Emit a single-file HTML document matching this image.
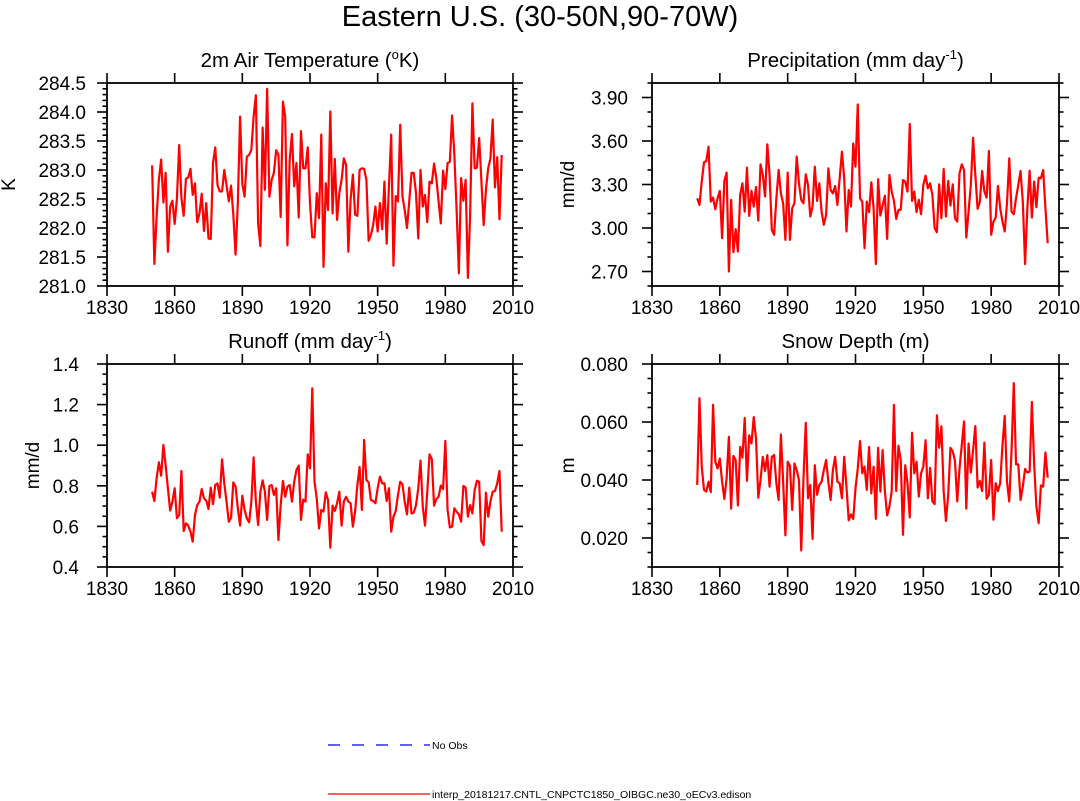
<!DOCTYPE html>
<html><head><meta charset="utf-8">
<style>
html,body{margin:0;padding:0;background:#fff;}
svg{display:block;font-family:"Liberation Sans",Arial,sans-serif;}
</style></head>
<body>
<svg id="chart" width="1080" height="801" viewBox="0 0 1080 801" xmlns="http://www.w3.org/2000/svg">
<text x="540" y="26" font-size="29" text-anchor="middle">Eastern U.S. (30-50N,90-70W)</text>
<g id="panels"></g>
<g>
  <line x1="328" y1="745" x2="430" y2="745" stroke="#0000ff" stroke-width="1.2" stroke-dasharray="12,12"/>
  <text x="432" y="749" font-size="10.5">No Obs</text>
  <line x1="328" y1="794" x2="430" y2="794" stroke="#ff0000" stroke-width="1.2"/>
  <text x="432" y="798" font-size="10.5">interp_20181217.CNTL_CNPCTC1850_OIBGC.ne30_oECv3.edison</text>
</g>
</svg>
<script>
const startYear = 1850;
const xTickYears = [1830, 1860, 1890, 1920, 1950, 1980, 2010];
const tempVals = [283.08,281.38,282.20,282.83,283.18,282.44,282.95,281.59,282.37,282.47,
282.07,282.51,283.43,282.51,282.21,282.85,282.87,283.02,282.57,282.77,
282.10,282.25,282.59,281.95,282.43,281.82,281.81,283.12,283.39,282.74,
282.63,282.63,283.00,282.74,282.46,282.73,282.23,281.54,282.43,283.92,
282.76,282.54,283.23,283.26,283.35,283.92,284.29,282.08,281.69,283.73,
282.66,284.40,282.54,282.83,282.95,283.34,283.26,282.19,284.18,283.92,
281.70,283.18,283.62,282.72,283.12,282.18,283.67,283.03,283.03,283.39,
282.43,281.84,281.84,282.60,282.17,283.61,281.33,282.77,282.31,284.01,
282.25,283.19,282.14,282.60,282.83,283.20,283.09,281.59,282.49,282.92,
282.23,282.21,283.00,283.03,283.02,282.83,281.78,281.88,282.05,282.37,
281.94,282.43,281.98,282.80,281.73,282.72,283.61,281.35,282.55,282.46,
283.78,282.54,282.31,282.00,282.46,282.95,282.95,282.60,281.82,283.00,
282.37,282.57,282.10,282.80,282.77,283.11,282.86,282.46,282.08,282.99,
282.67,283.12,283.14,283.94,283.26,282.31,281.22,282.86,282.47,282.83,
281.14,282.23,284.15,283.03,283.04,283.55,282.80,282.05,282.66,283.03,
283.20,283.87,282.70,283.22,282.15,283.26];
const precipVals = [3.205,3.159,3.320,3.453,3.462,3.561,3.182,3.210,3.129,3.205,
3.256,2.930,3.324,3.382,2.700,3.194,2.833,2.992,2.838,3.228,
3.308,3.113,3.416,3.083,3.256,3.148,3.283,3.051,3.439,3.366,
3.217,3.577,3.366,2.987,2.953,3.205,3.400,3.239,3.171,2.918,
3.382,2.918,3.136,3.171,3.492,3.308,3.194,3.171,3.370,3.297,
3.079,3.148,3.423,3.187,3.308,3.113,3.022,3.090,3.411,3.262,
3.239,3.290,3.159,3.343,3.526,3.343,2.976,3.262,3.148,3.583,
3.423,3.852,3.205,3.182,2.861,
3.182,3.109,3.315,3.136,2.751,3.336,3.086,3.159,3.223,2.925,
3.366,3.251,3.187,3.063,3.125,3.125,3.331,3.320,3.251,3.717,
3.187,3.251,3.109,3.194,3.095,3.297,3.361,3.274,3.308,3.228,
2.999,2.971,3.301,3.067,3.407,3.079,3.324,3.155,3.301,3.067,
3.044,3.377,3.439,3.400,2.934,3.113,3.297,3.622,3.366,3.132,
3.182,3.393,3.251,3.210,3.531,2.953,3.044,3.072,3.290,3.136,
3.044,2.976,3.171,3.480,3.113,3.095,3.205,3.297,3.393,3.182,
2.751,3.136,3.395,3.072,3.320,3.143,3.347,3.343,3.400,3.136,2.895];
const runoffVals = [0.771,0.725,0.837,0.916,0.850,1.001,0.902,0.788,0.678,0.722,
0.788,0.640,0.656,0.873,0.577,0.615,0.604,0.574,0.525,0.656,
0.705,0.722,0.784,0.738,0.727,0.686,0.791,0.710,0.804,0.812,
0.742,0.930,0.812,0.722,0.623,0.643,0.817,0.796,0.689,0.604,
0.751,0.681,0.640,0.620,0.722,0.940,0.722,0.607,0.771,0.827,
0.771,0.632,0.799,0.804,0.755,0.788,0.533,0.705,0.824,0.746,
0.796,0.804,0.722,0.820,0.878,0.899,0.632,0.732,0.722,0.955,
0.886,1.280,
0.820,0.738,0.590,0.681,0.673,0.768,0.730,0.495,0.702,0.676,
0.714,0.771,0.604,0.722,0.746,0.722,0.714,0.599,0.673,0.804,
0.893,0.681,1.026,0.829,0.817,0.730,0.725,0.714,0.788,0.845,
0.812,0.812,0.725,0.788,0.574,0.648,0.676,0.755,0.820,0.807,
0.722,0.659,0.791,0.664,0.668,0.705,0.788,0.924,0.697,0.604,
0.771,0.955,0.932,0.702,0.735,0.746,0.801,0.784,1.021,0.681,
0.595,0.599,0.689,0.673,0.659,0.623,0.799,0.791,0.648,0.705,
0.664,0.779,0.825,0.820,0.528,0.508,0.766,0.648,0.722,0.771,
0.774,0.812,0.873,0.574];
const snowVals = [0.0383,0.0682,0.0446,0.0366,0.0360,0.0394,0.0358,0.0659,0.0463,0.0440,
0.0474,0.0394,0.0335,0.0406,0.0549,0.0301,0.0483,0.0469,0.0312,0.0514,
0.0477,0.0614,0.0397,0.0554,0.0526,0.0617,0.0543,0.0339,0.0400,0.0480,
0.0431,0.0486,0.0377,0.0480,0.0486,0.0389,0.0331,0.0557,0.0394,0.0209,
0.0463,0.0449,0.0297,0.0457,0.0434,0.0400,0.0157,0.0406,0.0597,0.0337,
0.0383,0.0197,0.0451,0.0349,0.0383,0.0394,0.0434,0.0469,0.0394,0.0331,
0.0434,0.0480,0.0394,0.0389,0.0337,0.0480,0.0377,0.0261,0.0282,0.0266,
0.0371,0.0440,0.0534,0.0423,0.0446,
0.0366,0.0514,0.0354,0.0446,0.0266,0.0511,0.0360,0.0503,0.0360,0.0278,
0.0309,0.0360,0.0659,0.0362,0.0518,0.0469,0.0211,0.0451,0.0389,0.0271,
0.0563,0.0423,0.0463,0.0343,0.0423,0.0446,0.0537,0.0337,0.0442,0.0326,
0.0317,0.0623,0.0511,0.0585,0.0360,0.0259,0.0349,0.0511,0.0499,0.0465,
0.0326,0.0440,0.0520,0.0602,0.0301,0.0526,0.0426,0.0503,0.0586,0.0374,
0.0397,0.0362,0.0529,0.0335,0.0349,0.0469,0.0263,0.0389,0.0362,0.0389,
0.0520,0.0621,0.0394,0.0326,0.0499,0.0734,0.0454,0.0454,0.0331,0.0377,
0.0438,0.0426,0.0429,0.0669,0.0457,0.0309,0.0251,0.0381,0.0377,0.0495,0.0408];
const tempTicks = ["281.0","281.5","282.0","282.5","283.0","283.5","284.0","284.5"];
const precipTicks = ["2.70","3.00","3.30","3.60","3.90"];
const runoffTicks = ["0.4","0.6","0.8","1.0","1.2","1.4"];
const snowTicks = ["0.020","0.040","0.060","0.080"];

const NS = "http://www.w3.org/2000/svg";
function mk(tag, attrs, parent){const e=document.createElementNS(NS,tag);for(const k in attrs)e.setAttribute(k,attrs[k]);parent.appendChild(e);return e;}

const panels = [
 {key:"temperature", vals:tempVals, ticks:tempTicks, x0:107, x1:513, y0:83, y1:286, ymin:281.0, ymax:284.5, minor:0.1,
  labelRight:86, title:"2m Air Temperature (", sup:"o", titleEnd:"K)", ytitle:"K", ytx:15},
 {key:"precipitation", vals:precipVals, ticks:precipTicks, x0:652, x1:1059, y0:83, y1:286, ymin:2.6, ymax:4.0, minor:0.1,
  labelRight:628, title:"Precipitation (mm day", sup:"-1", titleEnd:")", ytitle:"mm/d", ytx:574},
 {key:"runoff", vals:runoffVals, ticks:runoffTicks, x0:107, x1:513, y0:364, y1:567, ymin:0.4, ymax:1.4, minor:0.05,
  labelRight:79, title:"Runoff (mm day", sup:"-1", titleEnd:")", ytitle:"mm/d", ytx:39},
 {key:"snow-depth", vals:snowVals, ticks:snowTicks, x0:652, x1:1059, y0:364, y1:567, ymin:0.01, ymax:0.08, minor:0.005,
  labelRight:628, title:"Snow Depth (m)", sup:"", titleEnd:"", ytitle:"m", ytx:574}
];

const root = document.getElementById("panels");
panels.forEach(p=>{
  const g = mk("g",{},root);
  
  
  const xs = y => p.x0 + (y - 1830) / 180 * (p.x1 - p.x0);
  const ys = v => p.y1 - (v - p.ymin) / (p.ymax - p.ymin) * (p.y1 - p.y0);
  const cx = (p.x0 + p.x1) / 2, cy = (p.y0 + p.y1) / 2;

  const t = mk("text",{x:cx, y:p.y0-16, "font-size":20.5, "text-anchor":"middle"},g);
  
  
  t.appendChild(document.createTextNode(p.title));
  if(p.sup){const s=mk("tspan",{"font-size":13,dy:-8},t);s.textContent=p.sup;const r=mk("tspan",{dy:8},t);r.textContent=p.titleEnd;}

  const yt = mk("text",{x:p.ytx, y:cy, "font-size":19, "text-anchor":"middle", transform:`rotate(-90 ${p.ytx} ${cy})`},g);
  
  
  yt.textContent = p.ytitle;

  const tg = mk("g",{stroke:"#000","stroke-width":1.6},g);
  
  
  const nMinor = Math.round((p.ymax - p.ymin) / p.minor);
  for(let i=0;i<=nMinor;i++){
    const v = p.ymin + i * p.minor;
    const isMajor = p.ticks.some(s => Math.abs(parseFloat(s) - v) < p.minor/10);
    const L = isMajor ? 10 : 4.5, yy = ys(v);
    mk("line",{x1:p.x0-L,y1:yy,x2:p.x0,y2:yy},tg);
    mk("line",{x1:p.x1,y1:yy,x2:p.x1+L,y2:yy},tg);
  }
  xTickYears.forEach(yr=>{
    const xx = xs(yr);
    mk("line",{x1:xx,y1:p.y1,x2:xx,y2:p.y1+10},tg);
    mk("line",{x1:xx,y1:p.y0-10,x2:xx,y2:p.y0},tg);
    const lb = mk("text",{x:xx, y:p.y1+28, "font-size":19, "text-anchor":"middle"},g);
    
    
    lb.textContent = yr;
  });
  p.ticks.forEach(s=>{
    const lb = mk("text",{x:p.labelRight, y:ys(parseFloat(s))+7, "font-size":19, "text-anchor":"end"},g);
    
    
    lb.textContent = s;
  });

  const pts = p.vals.map((v,i)=> xs(startYear+i).toFixed(2)+","+ys(v).toFixed(2)).join(" ");
  const line = mk("polyline",{points:pts, fill:"none", stroke:"#ff0000", "stroke-width":2.2, "stroke-linejoin":"round"},g);
  
  

  const fr = mk("rect",{x:p.x0,y:p.y0,width:p.x1-p.x0,height:p.y1-p.y0,fill:"none",stroke:"#000","stroke-width":1.8},g);
  
  
});
</script>
</body></html>
